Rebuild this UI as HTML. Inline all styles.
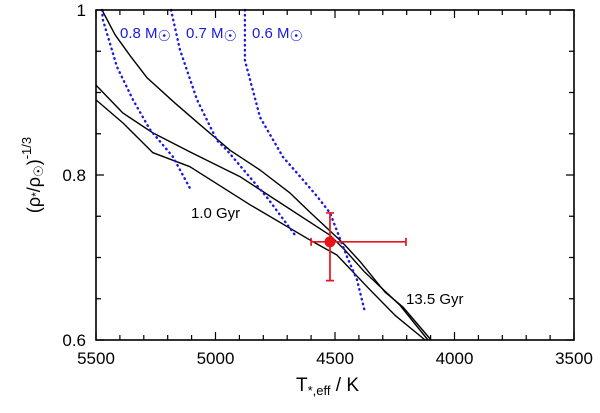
<!DOCTYPE html>
<html><head><meta charset="utf-8"><style>
body{margin:0;background:#fff;}
svg text{font-family:"Liberation Sans",sans-serif;}
</style></head><body>
<svg id="chart" width="600" height="408" xmlns="http://www.w3.org/2000/svg">
<g id="marks"></g>
<g id="axes"></g>
</svg>
<script>
const xTicks=[5500,5000,4500,4000,3500];
const yTicks=[0.6,0.8,1];
const isoA_T=[5475,5420,5358,5287,5169,5065,4939,4814,4688,4605,4479,4458,4395,4291,4216,4098];
const isoA_R=[1.0,0.970,0.945,0.918,0.887,0.861,0.830,0.806,0.778,0.755,0.721,0.715,0.695,0.658,0.640,0.600];
const isoB_T=[5500,5387,5262,5107,4898,4521,4458,4375,4228,4111];
const isoB_R=[0.909,0.875,0.851,0.828,0.798,0.727,0.709,0.682,0.642,0.600];
const isoC_T=[5500,5387,5262,5107,4856,4592,4492,4354,4249,4123];
const isoC_R=[0.891,0.863,0.827,0.810,0.764,0.719,0.703,0.661,0.630,0.600];
const m08_T=[5475,5471,5412,5345,5274,5178,5107];
const m08_R=[1.0,0.988,0.931,0.891,0.855,0.822,0.784];
const m07_T=[5186,5149,5077,4994,4952,4785,4659];
const m07_R=[1.0,0.952,0.891,0.842,0.830,0.773,0.724];
const m06_T=[4877,4877,4814,4718,4634,4575,4521,4450,4408,4375];
const m06_R=[1.0,0.939,0.870,0.822,0.794,0.774,0.754,0.701,0.673,0.634];
const obsT=[4521], obsR=[0.719], obsTlo=[4600], obsThi=[4203], obsRlo=[0.672], obsRhi=[0.754];

const L=96,R=574,T=10,B=340;
const xs=v=>L+(5500-v)/2000*(R-L);
const ys=v=>B-(v-0.6)/0.4*(B-T);
const NS="http://www.w3.org/2000/svg";
function mk(tag,attrs,parent){const e=document.createElementNS(NS,tag);for(const k in attrs)e.setAttribute(k,attrs[k]);parent.appendChild(e);return e;}
const marks=document.getElementById('marks'),axes=document.getElementById('axes');
function line(Ts,Rs,name,style){
  const d=Ts.map((t,i)=>(i?'L':'M')+xs(t).toFixed(1)+','+ys(Rs[i]).toFixed(1)).join('');
  const p=mk('path',Object.assign({d:d,fill:'none'},style),marks);
  
  
}
const blk={stroke:'#000','stroke-width':1.4,'stroke-linejoin':'round'};
const blu={stroke:'#1a1adf','stroke-width':2.4,'stroke-dasharray':'0.5 4.5','stroke-linecap':'round'};
line(isoA_T,isoA_R,'isochrone-a',blk);
line(isoB_T,isoB_R,'isochrone-b',blk);
line(isoC_T,isoC_R,'isochrone-c',blk);
line(m08_T,m08_R,'track-0.8-msun',blu);
line(m07_T,m07_R,'track-0.7-msun',blu);
line(m06_T,m06_R,'track-0.6-msun',blu);
const red={stroke:'#e8141c','stroke-width':1.7};
const ox=xs(obsT[0]),oy=ys(obsR[0]);
const eh=mk('path',Object.assign({d:`M${xs(obsTlo[0])},${oy}H${xs(obsThi[0])}M${xs(obsTlo[0])},${oy-4}v8M${xs(obsThi[0])},${oy-4}v8M${ox},${ys(obsRlo[0])}V${ys(obsRhi[0])}M${ox-4},${ys(obsRlo[0])}h8M${ox-4},${ys(obsRhi[0])}h8`,fill:'none'},red),marks);


const pt=mk('circle',{cx:ox,cy:oy,r:5.5,fill:'#e8141c'},marks);


const fr=mk('rect',{x:L,y:T,width:R-L,height:B-T,fill:'none',stroke:'#000','stroke-width':1.6},axes);


let td='';
for(let v=3500;v<=5500;v+=100){const x=xs(v),len=(v%500===0)?8:5;td+=`M${x},${B}v${-len}M${x},${T}v${len}`;}
for(let v=0.6;v<=1.0001;v+=0.05){const y=ys(v),len=(Math.round(v*100)%20===0)?8:5;td+=`M${L},${y}h${len}M${R},${y}h${-len}`;}
const tk=mk('path',{d:td,stroke:'#000','stroke-width':1.2,fill:'none'},axes);


xTicks.forEach(v=>{const t=mk('text',{x:xs(v),y:B+24,'text-anchor':'middle','font-size':17},axes);t.textContent=v;

});
yTicks.forEach(v=>{const t=mk('text',{x:L-10,y:ys(v)+6,'text-anchor':'end','font-size':17},axes);t.textContent=v;

});
</script>
<svg style="position:absolute;left:0;top:0" width="600" height="408" xmlns="http://www.w3.org/2000/svg">
<g font-family="Liberation Sans, sans-serif">
<text x="120" y="38" font-size="15" fill="#1a1adf">0.8 M<tspan font-size="15" dy="3">☉</tspan></text>
<text x="186" y="38" font-size="15" fill="#1a1adf">0.7 M<tspan font-size="15" dy="3">☉</tspan></text>
<text x="252" y="38" font-size="15" fill="#1a1adf">0.6 M<tspan font-size="15" dy="3">☉</tspan></text>
<text x="191" y="218" font-size="15" fill="#000">1.0 Gyr</text>
<text x="406" y="304" font-size="15" fill="#000">13.5 Gyr</text>
<text x="296" y="391" font-size="19" fill="#000">T<tspan font-size="13" dy="4">*,eff</tspan><tspan dy="-4"> / K</tspan></text>
<text transform="translate(40,175) rotate(-90)" text-anchor="middle" font-size="18" fill="#000">(ρ<tspan font-size="12">*</tspan>/ρ<tspan font-size="13" dy="3">☉</tspan><tspan dy="-3">)</tspan><tspan font-size="13" dy="-9">-1/3</tspan></text>
</g>
</svg>
</body></html>
